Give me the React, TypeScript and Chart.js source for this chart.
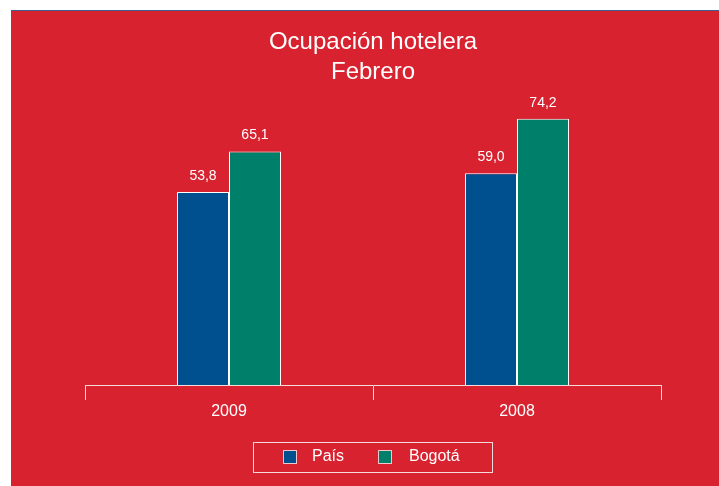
import React, { useEffect, useRef } from "react";
import { Chart, registerables } from "chart.js";

Chart.register(...registerables);

const categories = ["2009", "2008"];
const seriesNames = ["País", "Bogotá"];
const paisValues = [53.8, 59.0];
const bogotaValues = [65.1, 74.2];
const titleLines = ["Ocupación hotelera", "Febrero"];

const RED = "#D8222F";
const BLUE = "#00508F";
const GREEN = "#00806A";
const FONT = "'Liberation Sans', Arial, sans-serif";

const fmt = (v: number) => v.toFixed(1).replace(".", ",");

const customDraw = {
  id: "customDraw",
  afterDatasetsDraw(chart: any) {
    const ctx = chart.ctx;
    ctx.save();
    ctx.fillStyle = "#fff";
    ctx.textAlign = "center";
    ctx.textBaseline = "middle";
    ctx.font = `14px ${FONT}`;
    chart.data.datasets.forEach((ds: any, i: number) => {
      const meta = chart.getDatasetMeta(i);
      meta.data.forEach((bar: any, j: number) => {
        ctx.fillText(fmt(ds.data[j]), bar.x, bar.y - 16);
      });
    });
    ctx.restore();
  },
  afterDraw(chart: any) {
    const ctx = chart.ctx;
    const area = chart.chartArea;
    const cx = (area.left + area.right) / 2;
    ctx.save();
    ctx.fillStyle = "#fff";
    ctx.textAlign = "center";
    ctx.textBaseline = "middle";
    ctx.font = `24px ${FONT}`;
    ctx.fillText(titleLines[0], cx, 31);
    ctx.fillText(titleLines[1], cx, 61);

    // legend
    const lx = 241, ly = 431, lw = 239, lh = 30;
    ctx.strokeStyle = "#F6DADC";
    ctx.lineWidth = 1;
    ctx.strokeRect(lx + 0.5, ly + 0.5, lw, lh);
    const items = [
      { color: BLUE, sx: 271, tx: 300 },
      { color: GREEN, sx: 366, tx: 397 },
    ];
    ctx.font = `16px ${FONT}`;
    ctx.textAlign = "left";
    items.forEach((it, i) => {
      ctx.fillStyle = it.color;
      ctx.fillRect(it.sx, 439, 14, 14);
      ctx.strokeStyle = "#F0C8CC";
      ctx.strokeRect(it.sx + 0.5, 439.5, 13, 13);
      ctx.fillStyle = "#fff";
      ctx.fillText(seriesNames[i], it.tx, 446);
    });
    ctx.restore();
  },
};

export default function App() {
  const ref = useRef<HTMLCanvasElement>(null);
  useEffect(() => {
    if (!ref.current) return;
    const chart = new Chart(ref.current, {
      type: "bar",
      data: {
        labels: categories,
        datasets: [
          {
            label: seriesNames[0],
            data: paisValues,
            backgroundColor: BLUE,
            borderColor: "#fff",
            borderWidth: 1,
            barPercentage: 1,
            categoryPercentage: 0.361,
          },
          {
            label: seriesNames[1],
            data: bogotaValues,
            backgroundColor: GREEN,
            borderColor: "#fff",
            borderWidth: 1,
            barPercentage: 1,
            categoryPercentage: 0.361,
          },
        ],
      },
      options: {
        animation: false,
        responsive: false,
        maintainAspectRatio: false,
        layout: { padding: { left: 73, right: 58, top: 87, bottom: 0 } },
        plugins: {
          legend: { display: false },
          title: { display: false },
          tooltip: { enabled: false },
        },
        scales: {
          x: {
            grid: {
              offset: true,
              drawOnChartArea: false,
              tickLength: 15,
              color: "#F6DADC",
              lineWidth: 1,
            },
            border: { color: "#F6DADC", width: 1 },
            ticks: {
              color: "#fff",
              padding: 2,
              font: { size: 16, family: FONT },
            },
            afterFit: (scale: any) => {
              scale.height = 101;
            },
          },
          y: {
            display: false,
            min: 0,
            max: 80,
          },
        },
      },
      plugins: [customDraw],
    });
    return () => chart.destroy();
  }, []);

  return (
    <div
      style={{
        position: "absolute",
        left: 11,
        top: 10,
        width: 708,
        height: 476,
        borderLeft: "1px solid #3A5F93",
        borderTop: "1px solid #3A5F93",
        background: RED,
        boxSizing: "border-box",
      }}
    >
      <canvas ref={ref} width={707} height={475} style={{ display: "block" }} />
    </div>
  );
}
